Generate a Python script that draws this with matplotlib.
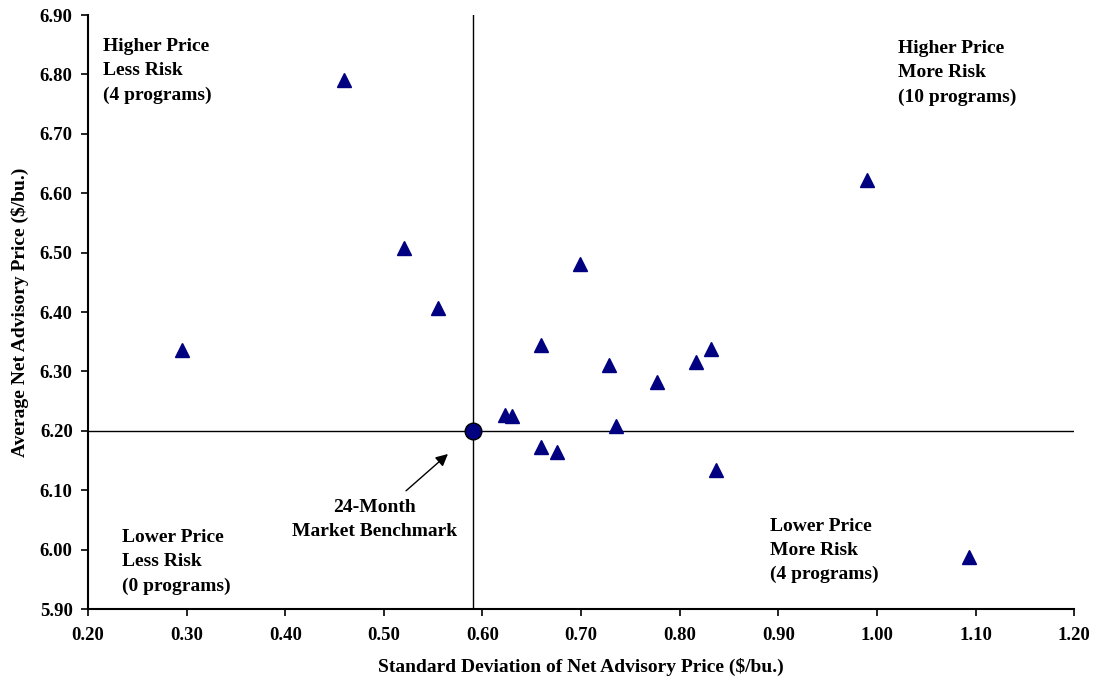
import matplotlib
matplotlib.use('Agg')
import matplotlib.pyplot as plt

plt.rcParams['font.family'] = ['Liberation Serif', 'DejaVu Serif']
plt.rcParams['font.weight'] = 'bold'

# Advisory programs: standard deviation vs average net price ($/bu.)
std_dev = [0.295, 0.460, 0.520, 0.555, 0.699, 0.659, 0.623, 0.630, 0.659,
           0.676, 0.735, 0.728, 0.777, 0.817, 0.832, 0.837, 0.990, 1.093]
avg_price = [6.336, 6.790, 6.507, 6.406, 6.480, 6.344, 6.226, 6.225, 6.173,
             6.164, 6.208, 6.311, 6.282, 6.316, 6.338, 6.134, 6.623, 5.988]

# 24-month market benchmark
bench_x = 0.59
bench_y = 6.20

x_ticks = [0.2, 0.3, 0.4, 0.5, 0.6, 0.7, 0.8, 0.9, 1.0, 1.1, 1.2]
y_ticks = [5.9, 6.0, 6.1, 6.2, 6.3, 6.4, 6.5, 6.6, 6.7, 6.8, 6.9]

fig = plt.figure(figsize=(10.97, 6.82), dpi=100)
ax = fig.add_axes([0.0802, 0.107, 0.899, 0.871])

# crosshair through the benchmark
ax.axvline(bench_x, color='black', linewidth=1.0, zorder=1)
ax.axhline(bench_y, color='black', linewidth=1.0, zorder=1)

ax.plot(std_dev, avg_price, linestyle='none', marker='^', markersize=9.5,
        color='#000080', zorder=3)
ax.plot([bench_x], [bench_y], linestyle='none', marker='o', markersize=12,
        markerfacecolor='#000080', markeredgecolor='black', zorder=4)

ax.set_xlim(0.2, 1.2)
ax.set_ylim(5.9, 6.9)
ax.set_xticks(x_ticks)
ax.set_yticks(y_ticks)
ax.set_xticklabels([f'{v:.2f}' for v in x_ticks])
ax.set_yticklabels([f'{v:.2f}' for v in y_ticks])
ax.tick_params(axis='both', labelsize=13.5, length=5, width=1.2, direction='out')
ax.tick_params(axis='x', pad=8)
ax.tick_params(axis='y', pad=6)

for side in ['top', 'right']:
    ax.spines[side].set_visible(False)
for side in ['left', 'bottom']:
    ax.spines[side].set_linewidth(1.5)

ax.set_xlabel('Standard Deviation of Net Advisory Price ($/bu.)',
              fontsize=14, fontweight='bold', labelpad=10)
ax.set_ylabel('Average Net Advisory Price ($/bu.)',
              fontsize=14, fontweight='bold', labelpad=8)

# quadrant labels
txt = dict(fontsize=14, fontweight='bold', va='top', ha='left', linespacing=1.55)
ax.text(0.215, 6.861, 'Higher Price\nLess Risk\n(4 programs)', **txt)
ax.text(1.021, 6.858, 'Higher Price\nMore Risk\n(10 programs)', **txt)
ax.text(0.234, 6.035, 'Lower Price\nLess Risk\n(0 programs)', **txt)
ax.text(0.892, 6.054, 'Lower Price\nMore Risk\n(4 programs)', **txt)

ax.text(0.491, 6.085, '24-Month\nMarket Benchmark', fontsize=14, fontweight='bold',
        ha='center', va='top', linespacing=1.55)
ax.annotate('', xy=(0.565, 6.161), xytext=(0.5225, 6.099),
            arrowprops=dict(arrowstyle='-|>', color='black', lw=1.0,
                            mutation_scale=18, shrinkA=0, shrinkB=0))

fig.savefig('out.png', dpi=100)
